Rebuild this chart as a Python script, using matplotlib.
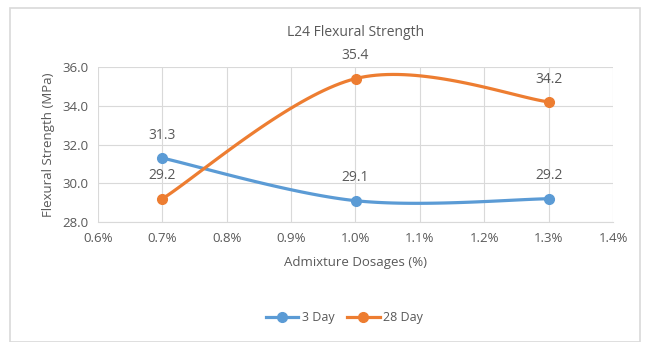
import matplotlib
matplotlib.use('Agg')
import matplotlib.pyplot as plt
from matplotlib.patches import Rectangle
import numpy as np

# data
dosages = [0.7, 1.0, 1.3]
day3 = [31.3, 29.1, 29.2]
day28 = [29.2, 35.4, 34.2]
series_names = ['3 Day', '28 Day']
colors = ['#5B9BD5', '#ED7D31']

TEXT = '#595959'
plt.rcParams['font.family'] = ['Open Sans', 'DejaVu Sans']


def smooth(x, y, n=40):
    # Excel-like smoothed line: cubic Bezier with Catmull-Rom tangents
    x = np.asarray(x, float)
    y = np.asarray(y, float)
    px = np.concatenate([[x[0]], x, [x[-1]]])
    py = np.concatenate([[y[0]], y, [y[-1]]])
    xs, ys = [], []
    t = np.linspace(0, 1, n)
    for i in range(1, len(px) - 2):
        p0 = np.array([px[i], py[i]])
        p3 = np.array([px[i + 1], py[i + 1]])
        c1 = p0 + (np.array([px[i + 1], py[i + 1]]) - np.array([px[i - 1], py[i - 1]])) / 6
        c2 = p3 - (np.array([px[i + 2], py[i + 2]]) - np.array([px[i], py[i]])) / 6
        pts = ((1 - t) ** 3)[:, None] * p0 + (3 * (1 - t) ** 2 * t)[:, None] * c1 \
            + (3 * (1 - t) * t ** 2)[:, None] * c2 + (t ** 3)[:, None] * p3
        xs.extend(pts[:, 0])
        ys.extend(pts[:, 1])
    return xs, ys


fig = plt.figure(figsize=(6.5, 3.42), dpi=100)
fig.patches.append(Rectangle((10 / 650, 0), 630 / 650, 334 / 342, transform=fig.transFigure,
                             fill=False, edgecolor='#D9D9D9', linewidth=1.2))
ax = fig.add_axes([98 / 650, 1 - 222 / 342, 515 / 650, 155 / 342])

for name, vals, c in zip(series_names, [day3, day28], colors):
    sx, sy = smooth(dosages, vals)
    ax.plot(sx, sy, color=c, linewidth=2.3, solid_capstyle='round', zorder=3)
    ax.plot(dosages, vals, 'o', color=c, markersize=7, zorder=4)
    ax.plot([], [], '-o', color=c, linewidth=2.3, markersize=7, label=name)
    for xv, yv in zip(dosages, vals):
        ax.annotate('{:.1f}'.format(yv), (xv, yv), xytext=(0, 11), textcoords='offset points',
                    ha='center', va='bottom', fontsize=10, color=TEXT)

ax.set_xlim(0.6, 1.4)
ax.set_ylim(28, 36)
ax.set_xticks(np.arange(0.6, 1.41, 0.1))
ax.set_xticklabels(['{:.1f}%'.format(v) for v in np.arange(0.6, 1.41, 0.1)])
ax.set_yticks(np.arange(28, 36.1, 2))
ax.set_yticklabels(['{:.1f}'.format(v) for v in np.arange(28, 36.1, 2)])
ax.grid(True, color='#D9D9D9', linewidth=0.8)
ax.set_axisbelow(True)
for s in ax.spines.values():
    s.set_visible(False)
ax.spines['bottom'].set_visible(True)
ax.spines['bottom'].set_color('#D9D9D9')
ax.tick_params(length=0, labelsize=9.5, colors=TEXT, pad=7)
ax.set_xlabel('Admixture Dosages (%)', fontsize=9.5, color=TEXT, labelpad=8)
ax.set_ylabel('Flexural Strength (MPa)', fontsize=9.5, color=TEXT, labelpad=5)
fig.text(0.5 * (98 + 613) / 650, 1 - 33 / 342, 'L24 Flexural Strength', ha='center', va='center',
         fontsize=10, color=TEXT)
fig.legend(loc='center', bbox_to_anchor=(0.53, 1 - 318 / 342), ncol=2, frameon=False,
           fontsize=9, labelcolor=TEXT, handlelength=2.6, columnspacing=1.0, handletextpad=0.3)

fig.savefig('out.png', dpi=100)
